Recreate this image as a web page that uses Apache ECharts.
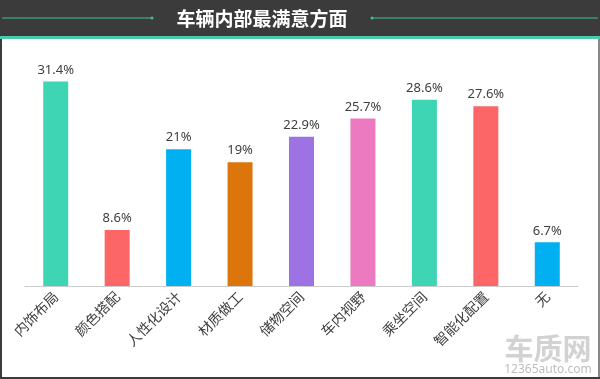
<!DOCTYPE html>
<html><head><meta charset="utf-8">
<script src="https://cdn.jsdelivr.net/npm/echarts@6/dist/echarts.min.js"></script>
<style>html,body{margin:0;padding:0;background:#fff}#c{width:600px;height:379px}</style>
</head><body><div id="c"></div>
<script>
const categories = ['内饰布局','颜色搭配','人性化设计','材质做工','储物空间','车内视野','乘坐空间','智能化配置','无'];
const values = [31.4, 8.6, 21, 19, 22.9, 25.7, 28.6, 27.6, 6.7];
const labels = ['31.4%','8.6%','21%','19%','22.9%','25.7%','28.6%','27.6%','6.7%'];
const colors = ['#3dd5b4','#fd6666','#00b0f0','#dc760c','#9d72e3','#ec7ac0','#3dd5b4','#fd6666','#00b0f0'];
const title = '车辆内部最满意方面';

const chart = echarts.init(document.getElementById('c'), null, {renderer:'canvas'});
chart.setOption({
  backgroundColor:'#fff',
  animation:false,
  grid:{left:25,right:22,top:58,bottom:93},
  xAxis:{type:'category',data:categories,
    axisLine:{lineStyle:{color:'#cccccc',width:1}},
    axisTick:{show:false},
    axisLabel:{rotate:45,fontSize:14,color:'#404040',margin:8,interval:0,fontFamily:'"Noto Sans CJK SC", sans-serif'}},
  yAxis:{type:'value',min:0,max:35,show:false,splitLine:{show:false}},
  series:[{type:'bar',barWidth:25,
    data:values.map((v,i)=>({value:v,itemStyle:{color:colors[i]},label:{formatter:labels[i]}})),
    label:{show:true,position:'top',distance:5,fontSize:13,color:'#404040',fontFamily:'"Noto Sans", sans-serif'}}],
  graphic:[
    {type:'rect',left:0,top:0,shape:{width:600,height:37},style:{fill:'#3b3b3b'},z:10},
    {type:'rect',left:0,top:36,shape:{width:600,height:3},style:{fill:'#4cc9a8'},z:11},
    {type:'line',shape:{x1:2,y1:18,x2:152,y2:18},style:{stroke:'#3fbf9f',lineWidth:1},z:11},
    {type:'circle',shape:{cx:152,cy:18,r:1.5},style:{fill:'#3fbf9f'},z:11},
    {type:'line',shape:{x1:372,y1:18,x2:598,y2:18},style:{stroke:'#3fbf9f',lineWidth:1},z:11},
    {type:'circle',shape:{cx:372,cy:18,r:1.5},style:{fill:'#3fbf9f'},z:11},
    {type:'text',x:262,y:19,style:{text:title,fill:'#ffffff',font:'bold 19px "Noto Sans CJK SC", sans-serif',textAlign:'center',textVerticalAlign:'middle'},z:12},
    {type:'rect',left:0,top:37,shape:{width:2,height:342},style:{fill:'#3b3b3b'},z:10},
    {type:'rect',left:598,top:37,shape:{width:2,height:342},style:{fill:'#888'},z:10},
    {type:'rect',left:0,top:377,shape:{width:600,height:2},style:{fill:'#3b3b3b'},z:10},
    {type:'text',x:548,y:349,style:{text:'车质网',fill:'#d2d2d2',font:'bold 29px "Noto Sans CJK SC", sans-serif',textAlign:'center',textVerticalAlign:'middle'},z:5},
    {type:'text',x:548,y:370,style:{text:'12365auto.com',fill:'#bdbdbd',font:'12px "Noto Sans", sans-serif',textAlign:'center',textVerticalAlign:'middle'},z:5}
  ]
});
</script></body></html>
